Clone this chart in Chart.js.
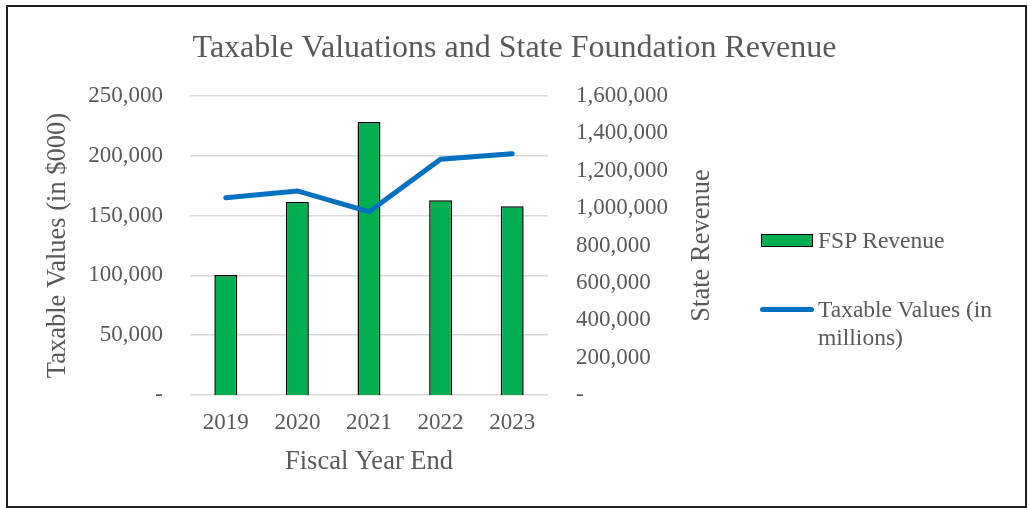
<!DOCTYPE html>
<html>
<head>
<meta charset="utf-8">
<script src="https://cdn.jsdelivr.net/npm/chart.js@4"></script>
<style>
  body { margin: 0; background: #fff; }
  #wrap { position: relative; width: 1029px; height: 508px; }
  #frame { position: absolute; left: 6px; top: 5px; width: 1021px; height: 503px; border: 2px solid #1e1e1e; box-sizing: border-box; pointer-events: none; }
  #leyenda { position: absolute; left: 760px; top: 0; font-family: 'Liberation Serif', serif; font-size: 23.5px; color: #595959; }
  .item { position: absolute; left: 0; width: 250px; }
  .muestra { position: absolute; left: 0; }
  .texto { position: absolute; left: 58px; line-height: 28px; white-space: nowrap; }
</style>
</head>
<body>
<div id="wrap">
  <canvas id="grafico" width="1029" height="508"></canvas>
  <div id="frame"></div>
  <div id="leyenda"></div>
</div>
<script>
// datos
var anios = ['2019', '2020', '2021', '2022', '2023'];
var fspRevenue = [642000, 1033000, 1461000, 1042000, 1010000];
var taxableValues = [165000, 170600, 153300, 197100, 201800];
var ticksIzq = [0, 50000, 100000, 150000, 200000, 250000];
var ticksDer = [0, 200000, 400000, 600000, 800000, 1000000, 1200000, 1400000, 1600000];
var tituloDer = 'State Revenue';

var gris = '#595959';
Chart.defaults.font.family = "'Liberation Serif', serif";
Chart.defaults.color = gris;

function formato(v) {
    if (v == 0) return '-';
    return v.toLocaleString('en-US');
}

// titulo del eje derecho girado como en Excel (de abajo hacia arriba)
var tituloEjeDer = {
    id: 'tituloEjeDer',
    afterDraw: function (chart) {
        var area = chart.chartArea;
        var c = chart.ctx;
        c.save();
        c.translate(702, (area.top + area.bottom) / 2);
        c.rotate(-Math.PI / 2);
        c.font = "26.5px 'Liberation Serif', serif";
        c.fillStyle = gris;
        c.textAlign = 'center';
        c.textBaseline = 'middle';
        c.fillText(tituloDer, 0, 0);
        c.restore();
    }
};

var ctx = document.getElementById('grafico').getContext('2d');
var chart = new Chart(ctx, {
    data: {
        labels: anios,
        datasets: [
            {
                type: 'bar',
                label: 'FSP Revenue',
                data: fspRevenue,
                yAxisID: 'y1',
                backgroundColor: '#00b050',
                borderColor: '#000000',
                borderWidth: 1.5,
                barPercentage: 0.32,
                categoryPercentage: 1,
                order: 2
            },
            {
                type: 'line',
                label: 'Taxable Values (in millions)',
                data: taxableValues,
                yAxisID: 'y',
                borderColor: '#0070c0',
                backgroundColor: '#0070c0',
                borderWidth: 5,
                borderCapStyle: 'round',
                pointRadius: 0,
                tension: 0,
                order: 1
            }
        ]
    },
    options: {
        responsive: false,
        animation: false,
        devicePixelRatio: 1,
        layout: { padding: { left: 8, right: 8, top: 8, bottom: 8 } },
        plugins: {
            legend: { display: false },
            tooltip: { enabled: false },
            title: {
                display: true,
                text: 'Taxable Valuations and State Foundation Revenue',
                color: gris,
                font: { size: 32, weight: 'normal' },
                padding: { top: 21, bottom: 28.6 }
            }
        },
        scales: {
            x: {
                grid: { display: false, drawTicks: false },
                border: { display: false },
                ticks: { font: { size: 23 }, padding: 14 },
                title: { display: true, text: 'Fiscal Year End', font: { size: 26.5 }, padding: { top: 0, bottom: 22 } },
                afterFit: function (s) { s.height = 105; }
            },
            y: {
                position: 'left',
                min: 0,
                max: 250000,
                afterBuildTicks: function (s) { s.ticks = ticksIzq.map(function (v) { return { value: v }; }); },
                grid: { color: '#d9d9d9', lineWidth: 1.5, drawTicks: false },
                border: { display: false },
                ticks: { font: { size: 23 }, padding: 27, callback: formato },
                title: { display: true, text: 'Taxable Values (in $000)', font: { size: 26.5 }, padding: { top: 34, bottom: 0 } },
                afterFit: function (s) { s.width = 182; }
            },
            y1: {
                position: 'right',
                min: 0,
                max: 1600000,
                afterBuildTicks: function (s) { s.ticks = ticksDer.map(function (v) { return { value: v }; }); },
                grid: { display: false, drawTicks: false },
                border: { display: false },
                ticks: { font: { size: 23 }, padding: 28, callback: formato },
                afterFit: function (s) { s.width = 473; }
            }
        }
    },
    plugins: [tituloEjeDer]
});

// leyenda a la derecha, sacada de los datasets
var leyenda = document.getElementById('leyenda');
var posiciones = [240, 309];
chart.data.datasets.forEach(function (ds, i) {
    var item = document.createElement('div');
    item.className = 'item';
    item.style.top = (posiciones[i] - 14) + 'px';
    var muestra = document.createElement('div');
    muestra.className = 'muestra';
    if (ds.type == 'bar') {
        muestra.style.cssText = 'left:1px;top:8px;width:52px;height:13px;box-sizing:border-box;border:1.5px solid #000;background:' + ds.backgroundColor;
    } else {
        muestra.style.cssText = 'left:0;top:11.5px;width:54px;height:5px;border-radius:3px;background:' + ds.borderColor;
    }
    var texto = document.createElement('div');
    texto.className = 'texto';
    var palabras = ds.label.split(' ');
    texto.innerHTML = palabras.length > 3 ? palabras.slice(0, 3).join(' ') + '<br>' + palabras.slice(3).join(' ') : ds.label;
    item.appendChild(muestra);
    item.appendChild(texto);
    leyenda.appendChild(item);
});
</script>
</body>
</html>
